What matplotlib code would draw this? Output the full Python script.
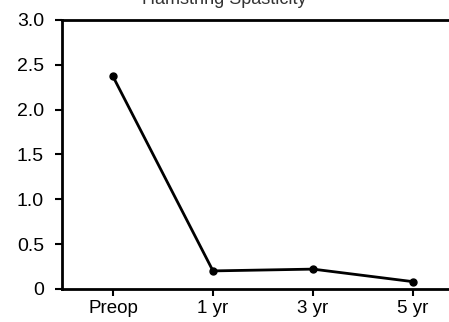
import matplotlib
matplotlib.use("Agg")
import matplotlib.pyplot as plt

# Hamstring spasticity over follow-up
labels = ["Preop", "1 yr", "3 yr", "5 yr"]
values = [2.37, 0.20, 0.22, 0.08]
yticks = [0, 0.5, 1.0, 1.5, 2.0, 2.5, 3.0]
ytick_labels = ["0", "0.5", "1.0", "1.5", "2.0", "2.5", "3.0"]

plt.rcParams["font.family"] = ["Liberation Sans", "DejaVu Sans"]

fig = plt.figure(figsize=(4.49, 3.22), dpi=100)
ax = fig.add_axes([0.138, 0.103, 0.862, 0.835])

x = list(range(len(labels)))
ax.plot(x, values, color="black", linewidth=2, marker="o", markersize=5)

ax.set_xlim(-0.51, 3.36)
ax.set_ylim(0, 3.0)
ax.set_xticks(x)
ax.set_xticklabels(labels, fontsize=13.5)
ax.set_yticks(yticks)
ax.set_yticklabels(ytick_labels, fontsize=14)
ax.tick_params(direction="out", length=5, width=1.5, colors="black")
ax.tick_params(axis="x", pad=3)
ax.tick_params(axis="y", pad=8)

ax.spines["right"].set_visible(False)
for s in ["left", "bottom", "top"]:
    ax.spines[s].set_linewidth(2)

fig.text(0.5, 1.0, "Hamstring Spasticity", ha="center", va="center",
         fontsize=13, color="#333333")

fig.savefig("out.png", dpi=100)
